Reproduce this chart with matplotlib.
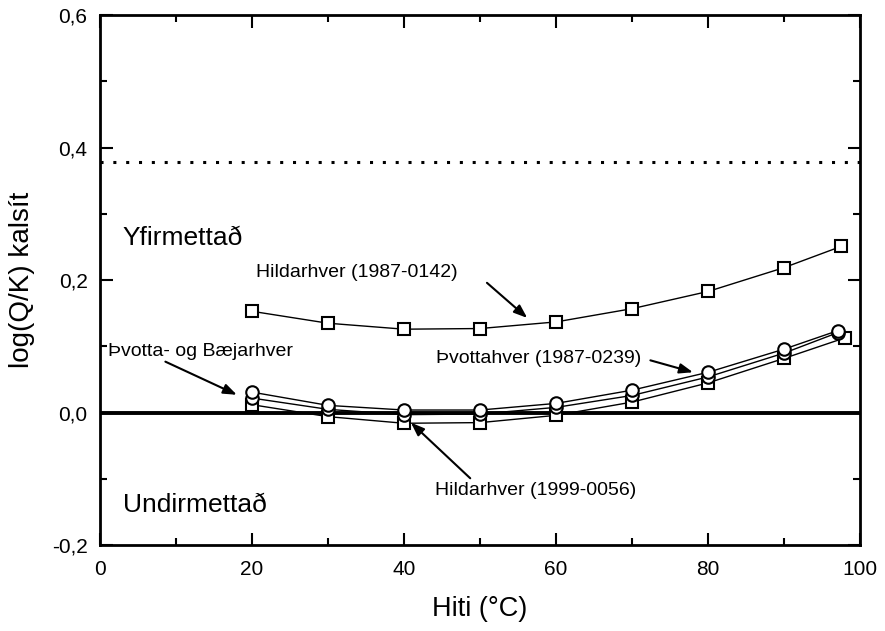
import matplotlib.pyplot as plt
from matplotlib.ticker import MultipleLocator, FuncFormatter

plt.rcParams['font.family'] = ['Liberation Sans', 'DejaVu Sans']

# Hildarhver (1987-0142)
hild87_x = [20, 30, 40, 50, 60, 70, 80, 90, 97.5]
hild87_y = [0.153, 0.135, 0.126, 0.127, 0.137, 0.157, 0.183, 0.219, 0.251]

# Þvottahver (1987-0239)
thv_x = [20, 30, 40, 50, 60, 70, 80, 90, 97.1]
thv_y = [0.031, 0.011, 0.004, 0.004, 0.014, 0.034, 0.061, 0.096, 0.124]

# Þvotta- og Bæjarhver
thvb_x = [20, 30, 40, 50, 60, 70, 80, 90, 97.1]
thvb_y = [0.022, 0.005, -0.003, -0.002, 0.008, 0.026, 0.054, 0.090, 0.121]

# Hildarhver (1999-0056)
hild99_x = [20, 30, 40, 50, 60, 70, 80, 90, 98]
hild99_y = [0.012, -0.006, -0.016, -0.015, -0.004, 0.016, 0.045, 0.082, 0.113]

saturation = 0.0
upper_limit = 0.378


def arrow(ax, start, tip):
    ax.annotate("", xy=tip, xytext=start,
                arrowprops=dict(arrowstyle="-|>,head_length=0.8,head_width=0.3",
                                color="black", lw=1.5, shrinkA=0, shrinkB=0))


def plot():
    fig = plt.figure(figsize=(8.85, 6.31), dpi=100)
    ax = fig.add_axes([0.113, 0.136, 0.859, 0.840])

    mk = dict(color="black", lw=1.0, markerfacecolor="white",
              markeredgecolor="black", markeredgewidth=1.5, markersize=9)
    ax.plot(hild99_x, hild99_y, marker="s", **mk)
    ax.plot(thvb_x, thvb_y, marker="o", **mk)
    ax.plot(thv_x, thv_y, marker="o", **mk)
    ax.plot(hild87_x, hild87_y, marker="s", **mk)

    ax.axhline(saturation, color="black", lw=2.8, zorder=1)
    ax.axhline(upper_limit, color="black", lw=2.2, ls=(0, (1, 3.2)), zorder=1)

    ax.set_xlim(0, 100)
    ax.set_ylim(-0.2, 0.6)
    ax.xaxis.set_major_locator(MultipleLocator(20))
    ax.xaxis.set_minor_locator(MultipleLocator(10))
    ax.yaxis.set_major_locator(MultipleLocator(0.2))
    ax.yaxis.set_minor_locator(MultipleLocator(0.1))
    ax.yaxis.set_major_formatter(FuncFormatter(lambda v, p: f"{v:.1f}".replace(".", ",")))
    ax.tick_params(which="both", direction="in", top=True, right=True, width=1.5)
    ax.tick_params(which="major", length=9, labelsize=15)
    ax.tick_params(axis="x", which="major", pad=11)
    ax.tick_params(axis="y", which="major", pad=9)
    ax.tick_params(which="minor", length=5)
    for s in ax.spines.values():
        s.set_linewidth(2)

    ax.set_xlabel("Hiti (°C)", fontsize=19.5, labelpad=12)
    ax.set_ylabel("log(Q/K) kalsít", fontsize=20, labelpad=12)

    ax.text(3.0, 0.263, "Yfirmettað", fontsize=19, va="center")
    ax.text(3.0, -0.139, "Undirmettað", fontsize=19, va="center")

    ax.text(20.5, 0.212, "Hildarhver (1987-0142)", fontsize=14, va="center")
    arrow(ax, (50.9, 0.196), (56.2, 0.143))
    ax.text(1.0, 0.093, "Þvotta- og Bæjarhver", fontsize=14, va="center")
    arrow(ax, (8.6, 0.077), (18.0, 0.027))
    ax.text(44.2, 0.082, "Þvottahver (1987-0239)", fontsize=14, va="center")
    arrow(ax, (72.4, 0.079), (78.0, 0.061))
    ax.text(44.1, -0.117, "Hildarhver (1999-0056)", fontsize=14, va="center")
    arrow(ax, (48.7, -0.099), (40.9, -0.015))

    plt.savefig("out.png")


if __name__ == '__main__':
    plot()
